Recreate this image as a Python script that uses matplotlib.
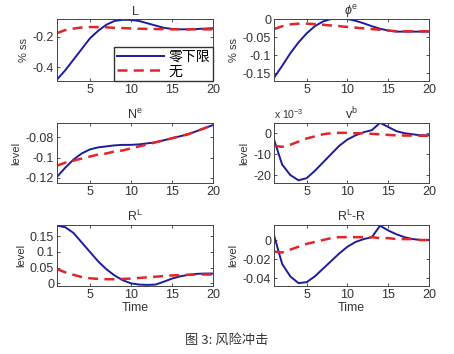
import numpy as np
import matplotlib
matplotlib.use('Agg')
import matplotlib.pyplot as plt
from matplotlib.ticker import FuncFormatter

plt.rcParams['font.family'] = ['Liberation Sans', 'Noto Sans CJK SC']
plt.rcParams['axes.unicode_minus'] = False
plt.rcParams['mathtext.fontset'] = 'custom'
plt.rcParams['mathtext.rm'] = 'Liberation Sans'
plt.rcParams['mathtext.it'] = 'Liberation Sans:italic'

t = np.arange(1, 21)

# impulse responses: blue = zero lower bound, red = none
L_zlb = [-0.48, -0.42, -0.35, -0.28, -0.21, -0.16, -0.12, -0.095, -0.087, -0.088,
         -0.095, -0.11, -0.125, -0.14, -0.147, -0.15, -0.15, -0.148, -0.145, -0.143]
L_no = [-0.175, -0.155, -0.145, -0.138, -0.135, -0.135, -0.137, -0.14, -0.142, -0.144,
        -0.146, -0.147, -0.148, -0.149, -0.15, -0.15, -0.15, -0.15, -0.15, -0.15]

phi_zlb = [-0.163, -0.13, -0.095, -0.065, -0.04, -0.02, -0.007, 0.0, 0.001, 0.0,
           -0.005, -0.012, -0.02, -0.027, -0.032, -0.035, -0.035, -0.035, -0.035, -0.035]
phi_no = [-0.028, -0.02, -0.015, -0.013, -0.013, -0.014, -0.016, -0.018, -0.02, -0.022,
          -0.024, -0.026, -0.028, -0.03, -0.032, -0.034, -0.034, -0.034, -0.034, -0.034]

Ne_zlb = [-0.119, -0.11, -0.102, -0.096, -0.092, -0.09, -0.089, -0.088, -0.0875, -0.0875,
          -0.087, -0.086, -0.085, -0.083, -0.081, -0.079, -0.077, -0.074, -0.071, -0.068]
Ne_no = [-0.108, -0.105, -0.103, -0.101, -0.099, -0.097, -0.096, -0.094, -0.093, -0.091,
         -0.089, -0.087, -0.085, -0.083, -0.081, -0.079, -0.077, -0.074, -0.071, -0.068]

vb_zlb = [-3e-3, -15e-3, -20e-3, -22.5e-3, -21.5e-3, -18e-3, -14e-3, -10e-3, -6e-3, -3e-3,
          -1e-3, 0.5e-3, 1.5e-3, 5e-3, 3e-3, 1e-3, 0.0, -0.5e-3, -1e-3, -1e-3]
vb_no = [-6e-3, -6.5e-3, -5.5e-3, -4e-3, -2.5e-3, -1.5e-3, -0.5e-3, 0.0, 0.2e-3, 0.2e-3,
         0.0, 0.0, -0.3e-3, -0.5e-3, -0.8e-3, -1e-3, -1.1e-3, -1.1e-3, -1.2e-3, -1.2e-3]

RL_zlb = [0.183, 0.178, 0.16, 0.13, 0.1, 0.07, 0.045, 0.025, 0.01, 0.0,
          -0.004, -0.005, -0.004, 0.005, 0.015, 0.022, 0.027, 0.03, 0.031, 0.031]
RL_no = [0.045, 0.035, 0.027, 0.02, 0.016, 0.014, 0.013, 0.013, 0.014, 0.015,
         0.017, 0.019, 0.021, 0.023, 0.025, 0.026, 0.027, 0.028, 0.028, 0.028]

RLR_zlb = [0.005, -0.025, -0.038, -0.045, -0.044, -0.038, -0.03, -0.022, -0.014, -0.007,
           -0.002, 0.001, 0.003, 0.015, 0.01, 0.006, 0.003, 0.001, 0.0, 0.0]
RLR_no = [-0.012, -0.013, -0.01, -0.007, -0.004, -0.002, 0.0, 0.002, 0.003, 0.003,
          0.003, 0.003, 0.003, 0.002, 0.002, 0.001, 0.001, 0.001, 0.0, 0.0]

panels = [
    ('L', '% ss', L_zlb, L_no, (-0.49, -0.082), [-0.4, -0.2]),
    (r'$\phi^{\mathrm{e}}$', '% ss', phi_zlb, phi_no, (-0.172, 0.0), [-0.15, -0.1, -0.05, 0]),
    (r'$\mathrm{N}^{\mathrm{e}}$', 'level', Ne_zlb, Ne_no, (-0.125, -0.066), [-0.12, -0.1, -0.08]),
    (r'$\mathrm{v}^{\mathrm{b}}$', 'level', vb_zlb, vb_no, (-0.0238, 0.0049), [-0.02, -0.01, 0]),
    (r'$\mathrm{R}^{\mathrm{L}}$', 'level', RL_zlb, RL_no, (-0.0085, 0.185), [0, 0.05, 0.1, 0.15]),
    (r'$\mathrm{R}^{\mathrm{L}}$-R', 'level', RLR_zlb, RLR_no, (-0.048, 0.0157), [-0.04, -0.02, 0]),
]

W, H = 454, 354
boxes = [(57, 19, 213, 81), (274, 19, 429, 81),
         (57, 123, 213, 183), (274, 123, 429, 183),
         (57, 225, 213, 286), (274, 225, 429, 286)]

fig = plt.figure(figsize=(4.54, 3.54), dpi=100)
blue = '#1c1c9c'
red = '#e0262a'
tc = '#333333'

for i, (title, ylab, yz, yn, ylim, yt) in enumerate(panels):
    x0, y0, x1, y1 = boxes[i]
    ax = fig.add_axes([x0 / W, 1 - y1 / H, (x1 - x0) / W, (y1 - y0) / H])
    ax.plot(t, yz, color=blue, lw=1.4, label='零下限')
    ax.plot(t, yn, color=red, lw=1.8, ls=(0, (4, 2.5)), label='无')
    ax.set_xlim(1, 20)
    ax.set_ylim(*ylim)
    ax.set_xticks([5, 10, 15, 20])
    ax.set_yticks(yt)
    if i == 3:
        ax.yaxis.set_major_formatter(FuncFormatter(lambda v, p: '%g' % round(v * 1e3, 6)))
        ax.text(0.0, 1.04, r'x 10$^{\mathrm{-3}}$', transform=ax.transAxes,
                fontsize=7.5, color=tc, ha='left', va='bottom')
    else:
        ax.yaxis.set_major_formatter(FuncFormatter(lambda v, p: '%g' % round(v, 6)))
    ax.tick_params(direction='in', top=True, right=True, labelsize=9, length=2.5,
                   width=0.6, colors=tc, pad=2)
    for s in ax.spines.values():
        s.set_linewidth(0.7)
        s.set_color('#444444')
    ax.set_title(title, fontsize=9, pad=3, color=tc)
    ax.set_ylabel(ylab, fontsize=8, labelpad=3, color=tc)
    if i >= 4:
        ax.set_xlabel('Time', fontsize=9, labelpad=1, color=tc)
    if i == 0:
        ax.legend(loc='lower right', handlelength=3.4, borderaxespad=0,
                  fancybox=False, edgecolor='#333333', framealpha=1,
                  prop={'family': ['Noto Sans CJK SC'], 'size': 10},
                  labelspacing=0.05, borderpad=0.2, handletextpad=0.3)

fig.text(0.5, 1 - 340 / H, '图 3: 风险冲击', ha='center', va='center', fontsize=9.5,
         color=tc, family=['Noto Sans CJK SC', 'DejaVu Sans'])

fig.savefig('out.png', dpi=100)
